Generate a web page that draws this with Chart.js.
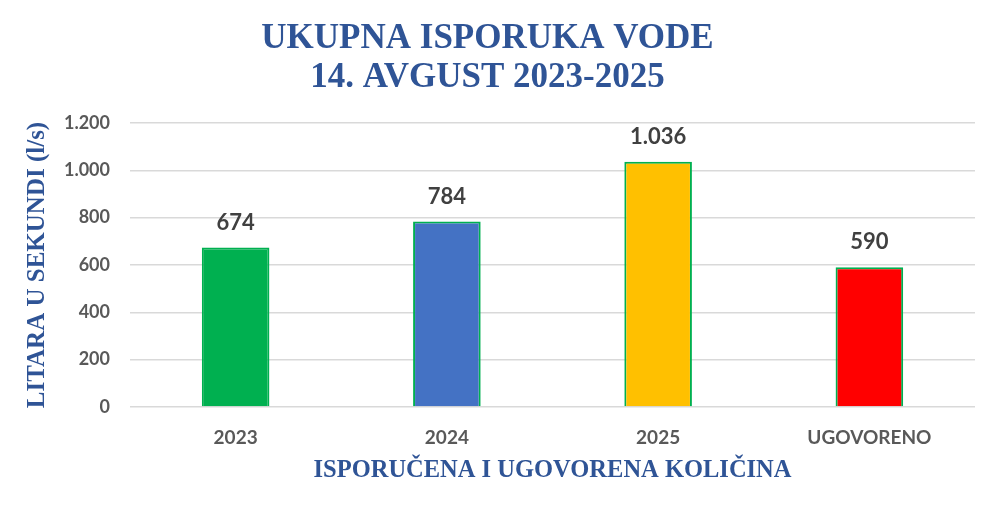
<!DOCTYPE html>
<html>
<head>
<meta charset="utf-8">
<script src="https://cdn.jsdelivr.net/npm/chart.js@4.4.0/dist/chart.umd.min.js"></script>
<style>
  html, body { margin: 0; padding: 0; background: #ffffff; }
  #wrap { width: 1000px; height: 513px; }
</style>
</head>
<body>
<div id="wrap"><canvas id="waterChart"></canvas></div>
<script>
// Isporuka vode - podaci
const categories = ['2023', '2024', '2025', 'UGOVORENO'];
const deliveryValues = [674, 784, 1036, 590];
const barColors = ['#00B050', '#4472C4', '#FFC000', '#FF0000'];
const yTicks = [0, 200, 400, 600, 800, 1000, 1200];

const titleBlue = '#2F5496';
const serif = '"Liberation Serif", "DejaVu Serif", serif';
const sans = 'Lato, "Open Sans", sans-serif';

// format 1036 -> 1.036
const fmt = v => v.toLocaleString('de-DE');

// value labels above bars
const barLabels = {
    id: 'barLabels',
    afterDatasetsDraw(chart) {
        const ctx = chart.ctx;
        const meta = chart.getDatasetMeta(0);
        ctx.save();
        ctx.font = 'bold 22px ' + sans;
        ctx.fillStyle = '#404040';
        ctx.textAlign = 'center';
        ctx.textBaseline = 'middle';
        meta.data.forEach((bar, i) => {
            ctx.fillText(fmt(deliveryValues[i]), bar.x, bar.y - 25);
        });
        ctx.restore();
    }
};

const ctx = document.getElementById('waterChart').getContext('2d');
new Chart(ctx, {
    type: 'bar',
    data: {
        labels: categories,
        datasets: [{
            label: 'Isporuka',
            data: deliveryValues,
            backgroundColor: barColors,
            borderColor: '#00B050',
            borderWidth: 2,
            barPercentage: 0.32,
            categoryPercentage: 1
        }]
    },
    options: {
        responsive: true,
        maintainAspectRatio: false,
        animation: false,
        layout: {
            padding: { left: 0, right: 25, top: 0, bottom: 0 }
        },
        scales: {
            y: {
                min: 0,
                max: 1200,
                afterBuildTicks: scale => {
                    scale.ticks = yTicks.map(v => ({ value: v }));
                },
                afterFit: scale => { scale.width = 130; },
                border: { display: false },
                grid: { color: '#D9D9D9', lineWidth: 1.5, drawTicks: false },
                ticks: {
                    padding: 20,
                    color: '#595959',
                    font: { family: sans, size: 18, weight: 'bold' },
                    callback: v => fmt(v)
                },
                title: {
                    display: true,
                    text: 'LITARA U SEKUNDI (l/s)',
                    color: titleBlue,
                    font: { family: serif, size: 25, weight: 'bold' },
                    padding: { top: 23, bottom: 0 }
                }
            },
            x: {
                afterFit: scale => { scale.height = 106; },
                border: { display: false },
                grid: { display: false, drawTicks: false },
                ticks: {
                    padding: 19,
                    color: '#595959',
                    font: { family: sans, size: 19, weight: 'bold' }
                },
                title: {
                    display: true,
                    text: 'ISPORUČENA I UGOVORENA KOLIČINA',
                    color: titleBlue,
                    font: { family: serif, size: 24.5, weight: 'bold' },
                    padding: { top: 0, bottom: 28 }
                }
            }
        },
        plugins: {
            legend: { display: false },
            tooltip: { enabled: false },
            title: {
                display: true,
                text: ['UKUPNA ISPORUKA VODE', '14. AVGUST 2023-2025'],
                color: titleBlue,
                font: { family: serif, size: 35, weight: 'bold', lineHeight: 1.1 },
                padding: { top: 20, bottom: 26 }
            }
        }
    },
    plugins: [barLabels]
});
</script>
</body>
</html>
